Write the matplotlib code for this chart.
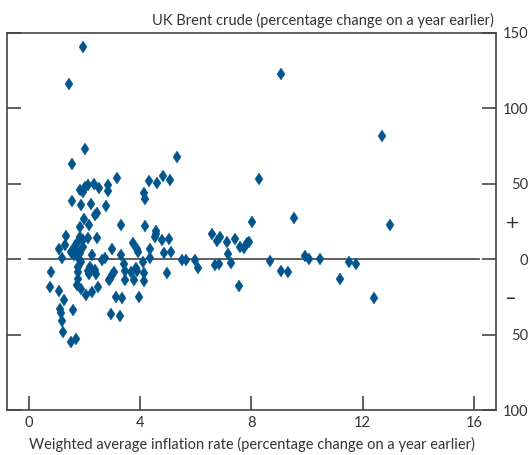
import matplotlib
matplotlib.use("Agg")
import matplotlib.pyplot as plt

# Data (inflation %, Brent % change)
inflation = [1.95, 1.44, 1.99, 1.55, 5.32, 3.17, 4.32, 4.83, 4.61, 5.06, 4.12, 4.18,
             1.82, 1.93, 2.02, 2.13, 2.33, 2.51, 2.85, 2.85, 1.55, 1.88, 2.23, 2.76,
             2.45, 2.38, 1.98, 1.82, 2.14, 3.32, 4.17, 4.55, 1.34, 1.28, 1.06, 1.17,
             0.77, 0.74, 1.08, 1.26, 1.09, 1.14, 1.19, 1.23, 1.56, 1.52, 1.70, 1.82,
             1.92, 2.11, 2.43, 1.73, 1.64, 1.92, 1.50, 1.55, 1.60, 1.69, 1.81, 1.78,
             1.85, 1.74, 1.77, 1.74, 1.73, 1.86, 2.05, 2.27, 2.47, 2.26, 2.11, 2.15,
             2.35, 2.41, 2.20, 2.61, 2.72, 2.97, 2.89, 2.86, 3.05, 2.99, 3.12, 3.34,
             2.93, 3.28, 3.30, 3.41, 3.46, 3.46, 3.73, 3.89, 3.93, 3.66, 3.76, 3.84,
             3.89, 3.96, 4.09, 4.12, 4.14, 4.35, 4.35, 4.52, 4.57, 4.79, 5.03, 4.86,
             5.12, 4.97, 5.50, 5.63, 5.96, 6.09, 8.27, 9.52, 8.02, 6.57, 6.77, 6.88,
             7.13, 7.42, 7.58, 7.72, 7.83, 7.91, 7.16, 6.67, 6.83, 7.27, 7.55, 8.67,
             9.06, 9.31, 9.91, 10.06, 10.46, 11.17, 11.52, 11.77, 12.41, 12.68, 12.98,
             9.06]
brent = [141, 116.5, 73, 63, 68, 54, 52, 55, 50.5, 52.5, 44, 40,
         46, 44.5, 48, 49, 50, 47.5, 49.5, 45.5, 38.5, 36, 36.5, 35,
         30.5, 29, 26.5, 21.5, 22.5, 22.5, 22, 19, 15.5, 9.5, 6.5, 1,
         -8.5, -18.5, -21, -27, -33, -35.5, -41, -48.5, -34, -55, -53, 15,
         12.5, 14, 14, 11, 9, 8, 5, 4, 2.5, 6, 4, 0,
         -2, -5, -8.5, -13, -17, -19.5, -24, -22, -18.5, 2.5, -7.5, -9.5,
         -7, -10, -5, -0.5, 0.5, 6.5, -13, -13.5, -8.5, -10.5, -25, -26,
         -36.5, -37.5, 3, -3, -7.5, -13.5, 10.5, 6.5, 5, -8.5, -13.5, -6,
         -7.5, -25, -2, -14.5, -9, 6.5, 0.5, 15, 17, 13, 13.5, 4,
         5, -9, -0.5, -0.5, -0.5, -6, 53, 27, 24.5, 16.5, 12, 14.5,
         11.5, 13.5, 8, 7.5, 11, 11.5, 3.5, -4, -3, -2.5, -18, -1.5,
         -8, -8.5, 2, 0, 0, -13, -2, -3, -26, 82, 23,
         123]

x_ticks = [0, 4, 8, 12, 16]
y_ticks = [-100, -50, 0, 50, 100, 150]
y_tick_labels = ["100", "50", "0", "50", "100", "150"]
y_sign_ticks = [-25, 25]
y_sign_labels = ["\u2013", "+"]

FONT = "Lato"
TXT = "#333333"
AX = "#444444"
MARK = "#00558C"

plt.rcParams["font.family"] = [FONT, "DejaVu Sans"]

fig = plt.figure(figsize=(5.3, 4.55), dpi=100)
ax = fig.add_axes([7/530, 45/455, 489/530, 377/455])

ax.plot([0, 16.2], [0, 0], color=AX, lw=1.2, zorder=1)
ax.plot(inflation, brent, linestyle="none", marker="d", ms=6.2,
        color=MARK, mec=MARK, mew=0.3, zorder=3)

ax.set_xlim(-0.8, 16.8)
ax.set_ylim(-100, 150)

for s in ax.spines.values():
    s.set_color(AX)
    s.set_linewidth(1.2)

ax.set_xticks(x_ticks)
ax.set_xticklabels([str(v) for v in x_ticks])
ax.tick_params(axis="x", direction="in", length=10, width=1.2, color=AX,
               labelsize=10.5, labelcolor=TXT, pad=4, top=False)

ax.set_yticks(y_ticks)
ax.set_yticklabels(y_tick_labels)
ax.tick_params(axis="y", which="major", direction="in", length=10, width=1.2, color=AX,
               left=True, right=True, labelleft=False, labelright=True,
               labelsize=10.5, labelcolor=TXT, pad=23)
for t in ax.yaxis.get_majorticklabels():
    t.set_horizontalalignment("right")

ax.set_yticks(y_sign_ticks, minor=True)
ax.set_yticklabels(y_sign_labels, minor=True)
ax.tick_params(axis="y", which="minor", length=0, left=False, right=True,
               labelleft=False, labelright=True, labelsize=13, labelcolor=TXT, pad=11)
for t in ax.yaxis.get_minorticklabels():
    t.set_horizontalalignment("center")
    t.set_family(["DejaVu Sans"])
    t.set_fontsize(13 if t.get_text() == "+" else 14)
ax.tick_params(axis="x", which="minor", length=0)

ax.set_xlabel("Weighted average inflation rate (percentage change on a year earlier)",
              fontsize=10.5, color=TXT, labelpad=5)
ax.text(0.995, 1.012, "UK Brent crude (percentage change on a year earlier)",
        transform=ax.transAxes, ha="right", va="bottom", fontsize=10.5, color=TXT)

fig.savefig("out.png", dpi=100)
